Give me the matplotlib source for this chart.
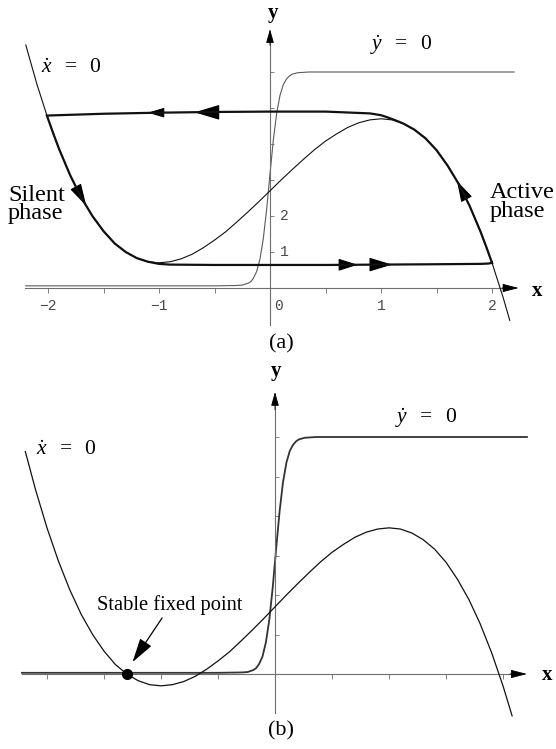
import matplotlib
matplotlib.use("Agg")
import matplotlib.pyplot as plt

plt.rcParams['font.family'] = ['Liberation Serif', 'DejaVu Serif']
plt.rcParams['mathtext.fontset'] = 'custom'
plt.rcParams['mathtext.rm'] = 'Liberation Serif'
plt.rcParams['mathtext.it'] = 'Liberation Serif:italic'
plt.rcParams['mathtext.bf'] = 'Liberation Serif:bold'

# ---------------- panel (a): oscillatory case ----------------
# cubic x-nullcline
cubic_a_x = [-2.20, -2.10, -2.00, -1.90, -1.80, -1.70, -1.60, -1.50, -1.40, -1.30,
             -1.20, -1.10, -1.00, -0.90, -0.80, -0.70, -0.60, -0.50, -0.40, -0.30,
             -0.20, -0.10, 0.00, 0.10, 0.20, 0.30, 0.40, 0.50, 0.60, 0.70,
             0.80, 0.90, 1.00, 1.10, 1.20, 1.30, 1.40, 1.50, 1.60, 1.70,
             1.80, 1.90, 2.00, 2.10, 2.16]
cubic_a_y = [6.75, 5.66, 4.70, 3.86, 3.13, 2.51, 2.00, 1.58, 1.24, 1.00,
             0.83, 0.73, 0.70, 0.73, 0.81, 0.94, 1.12, 1.33, 1.56, 1.83,
             2.11, 2.40, 2.70, 3.00, 3.29, 3.57, 3.84, 4.08, 4.28, 4.46,
             4.59, 4.67, 4.70, 4.67, 4.57, 4.40, 4.16, 3.83, 3.40, 2.89,
             2.27, 1.54, 0.70, -0.26, -0.90]

# sigmoid y-nullcline
sig_a_x = [-2.20, -0.50, -0.30, -0.25, -0.20, -0.175, -0.15, -0.12, -0.09, -0.06,
           -0.03, 0.00, 0.03, 0.06, 0.09, 0.12, 0.15, 0.175, 0.20, 0.25,
           0.30, 0.35, 0.40, 2.20]
sig_a_y = [0.06, 0.06, 0.07, 0.08, 0.13, 0.17, 0.27, 0.46, 0.81, 1.38,
           2.19, 3.17, 4.11, 4.85, 5.35, 5.65, 5.81, 5.89, 5.94, 5.98,
           5.99, 6.00, 6.00, 6.00]

# relaxation-oscillation orbit (active phase up the right branch,
# jump left, silent phase down the left branch, jump right)
orbit_x = [2.00, 1.95, 1.90, 1.80, 1.70, 1.60, 1.50, 1.40, 1.30, 1.20,
           1.12, 1.05, 1.00, 0.90, 0.50, 0.00, -0.50, -1.00, -1.50, -2.01,
           -1.95, -1.90, -1.80, -1.70, -1.60, -1.50, -1.40, -1.30, -1.20, -1.10,
           -1.00, -0.90, -0.50, 0.00, 0.50, 1.00, 1.50, 1.90, 1.97, 2.00]
orbit_y = [0.70, 1.13, 1.54, 2.27, 2.89, 3.40, 3.83, 4.16, 4.40, 4.57,
           4.67, 4.75, 4.80, 4.85, 4.90, 4.90, 4.89, 4.87, 4.84, 4.79,
           4.27, 3.86, 3.13, 2.51, 2.00, 1.58, 1.24, 1.00, 0.83, 0.73,
           0.67, 0.65, 0.64, 0.64, 0.64, 0.65, 0.66, 0.67, 0.68, 0.70]

# direction arrows on the orbit: (tail x, tail y, head x, head y)
orbit_arrows = [
    (-0.97, 4.87, -1.10, 4.87),
    (-0.48, 4.88, -0.68, 4.88),
    (0.65, 0.645, 0.79, 0.645),
    (0.92, 0.65, 1.10, 0.65),
    (-1.74, 2.76, -1.655, 2.28),
    (1.765, 2.50, 1.685, 2.97),
]

xticks_a = [-2.0, -1.5, -1.0, -0.5, 0.5, 1.0, 1.5, 2.0]
yticks_a = [1, 2, 3, 4, 5, 6]
xticklabels_a = ['\u22122', '\u22121', '0', '1', '2']
xticklabel_pos_a = [-2.0, -1.0, 0.0, 1.0, 2.0]
yticklabels_a = ['1', '2']
yticklabel_pos_a = [1.0, 2.0]

# ---------------- panel (b): excitable case ----------------
cubic_b_x = [-2.19, -2.10, -2.00, -1.90, -1.80, -1.70, -1.60, -1.50, -1.40, -1.30,
             -1.20, -1.10, -1.00, -0.90, -0.80, -0.70, -0.60, -0.50, -0.40, -0.30,
             -0.20, -0.10, 0.00, 0.10, 0.20, 0.30, 0.40, 0.50, 0.60, 0.70,
             0.80, 0.90, 1.00, 1.10, 1.20, 1.30, 1.40, 1.50, 1.60, 1.70,
             1.80, 1.90, 2.00, 2.08]
cubic_b_y = [5.63, 4.66, 3.70, 2.86, 2.13, 1.51, 1.00, 0.58, 0.24, 0.00,
             -0.17, -0.27, -0.30, -0.27, -0.19, -0.06, 0.12, 0.33, 0.56, 0.83,
             1.11, 1.40, 1.70, 2.00, 2.29, 2.57, 2.84, 3.08, 3.28, 3.46,
             3.59, 3.67, 3.70, 3.67, 3.57, 3.40, 3.16, 2.83, 2.40, 1.89,
             1.27, 0.54, -0.30, -1.06]

sig_b_x = [-2.22, -0.50, -0.29, -0.24, -0.19, -0.165, -0.14, -0.11, -0.08, -0.05,
           -0.02, 0.01, 0.04, 0.07, 0.10, 0.13, 0.16, 0.185, 0.21, 0.26,
           0.31, 0.36, 0.41, 2.21]
sig_b_y = [0.03, 0.03, 0.04, 0.05, 0.10, 0.15, 0.25, 0.44, 0.80, 1.37,
           2.19, 3.17, 4.11, 4.85, 5.35, 5.65, 5.81, 5.89, 5.94, 5.98,
           5.99, 6.00, 6.00, 6.00]

fixed_point = (-1.30, 0.00)

xticks_b = [-2.0, -1.5, -1.0, -0.5, 0.5, 1.0, 1.5, 2.0]
yticks_b = [1, 2, 3, 4, 5, 6]

AXIS_GRAY = '#6e6e6e'
TICK_GRAY = '#4a4a4a'
LABEL_SIZE = 17.5
NULL_SIZE = 15.5
XDOT = r'$\dot{x}\ \ =\ \ 0$'
YDOT = r'$\dot{y}\ \ =\ \ 0$'


def draw_frame(ax, xlim, ylim, x_span, y_span, xticks, yticks):
    ax.set_xlim(*xlim)
    ax.set_ylim(*ylim)
    ax.patch.set_visible(False)
    for side in ('top', 'right'):
        ax.spines[side].set_visible(False)
    ax.spines['left'].set_position(('data', 0))
    ax.spines['bottom'].set_position(('data', 0))
    ax.spines['bottom'].set_bounds(x_span[0], x_span[1] - 0.05)
    ax.spines['left'].set_bounds(y_span[0], y_span[1] - 0.2)
    for side in ('left', 'bottom'):
        ax.spines[side].set_color(AXIS_GRAY)
        ax.spines[side].set_linewidth(0.8)
    ax.set_xticks(xticks)
    ax.set_yticks(yticks)
    ax.tick_params(axis='x', direction='out', length=3.5, width=0.6,
                   color=AXIS_GRAY, labelbottom=False)
    ax.tick_params(axis='y', direction='in', length=3.0, width=0.6,
                   color=AXIS_GRAY, labelleft=False)
    # arrowheads on both axes
    ax.annotate('', xy=(x_span[1], 0), xytext=(x_span[1] - 0.15, 0),
                arrowprops=dict(arrowstyle='-|>,head_length=10,head_width=2.6',
                                mutation_scale=1, color='k', lw=0.6,
                                shrinkA=0, shrinkB=0))
    ax.annotate('', xy=(0, y_span[1]), xytext=(0, y_span[1] - 0.45),
                arrowprops=dict(arrowstyle='-|>,head_length=8.5,head_width=2.4',
                                mutation_scale=1, color='k', lw=0.6,
                                shrinkA=0, shrinkB=0))


def orbit_arrow(ax, tail, head, length, half_width):
    ax.annotate('', xy=head, xytext=tail,
                arrowprops=dict(arrowstyle='-|>,head_length=%g,head_width=%g'
                                % (length, half_width),
                                mutation_scale=1, color='k', lw=0.8,
                                shrinkA=0, shrinkB=0))


fig = plt.figure(figsize=(5.56, 7.49), dpi=100)

# ---------------- panel (a) ----------------
ax_a = fig.add_axes([0.0, 389 / 749, 1.0, 360 / 749])
draw_frame(ax_a, (-270 / 111, 286 / 111), (-2.0, 8.0),
           (-2.21, 2.24), (-1.03, 7.19), xticks_a, yticks_a)

ax_a.plot(sig_a_x, sig_a_y, color='#5a5a5a', lw=0.8, zorder=2)
ax_a.plot(cubic_a_x, cubic_a_y, color='#111111', lw=0.8, zorder=3)
ax_a.plot(orbit_x, orbit_y, color='#111111', lw=1.6, zorder=4,
          solid_joinstyle='miter')

arrow_sizes = [(10, 3.0), (16, 4.8), (12, 3.8), (14.5, 4.4), (14, 3.8), (13, 3.8)]
for (tx, ty, hx, hy), (ln, hw) in zip(orbit_arrows, arrow_sizes):
    orbit_arrow(ax_a, (tx, ty), (hx, hy), ln, hw)

mono = dict(family=['Liberation Mono', 'DejaVu Sans Mono'], fontsize=10.5,
            color=TICK_GRAY)
for lab, pos in zip(xticklabels_a, xticklabel_pos_a):
    xpos = pos + 0.08 if pos == 0 else pos
    ax_a.text(xpos, -0.5, lab, ha='center', va='center', **mono)
for lab, pos in zip(yticklabels_a, yticklabel_pos_a):
    ax_a.text(0.09, pos, lab, ha='left', va='center', **mono)

ax_a.text(-1.79, 6.1, XDOT, fontsize=NULL_SIZE, ha='center', va='center')
ax_a.text(1.18, 6.75, YDOT, fontsize=NULL_SIZE, ha='center', va='center')
ax_a.text(-2.36, 2.33, 'Silent\nphase', fontsize=LABEL_SIZE, ha='left',
          va='center', linespacing=0.82)
ax_a.text(1.98, 2.39, 'Active\nphase', fontsize=LABEL_SIZE, ha='left',
          va='center', linespacing=0.82)
ax_a.text(0.03, 7.64, 'y', fontsize=15, fontweight='bold', ha='center', va='center')
ax_a.text(2.405, -0.08, 'x', fontsize=15, fontweight='bold', ha='center', va='center')
ax_a.text(0.1, -1.56, '(a)', fontsize=16, ha='center', va='center')

# ---------------- panel (b) ----------------
ax_b = fig.add_axes([0.0, 0.0, 1.0, 389 / 749])
draw_frame(ax_b, (-275 / 114, 281 / 114), (-75 / 39.5, 314 / 39.5),
           (-2.22, 2.21), (-0.99, 7.14), xticks_b, yticks_b)

ax_b.plot(sig_b_x, sig_b_y, color='#333333', lw=1.3, zorder=2)
ax_b.plot(cubic_b_x, cubic_b_y, color='#111111', lw=0.9, zorder=3)
ax_b.plot([fixed_point[0]], [fixed_point[1]], 'o', color='k', ms=7, zorder=5)

ax_b.annotate('', xy=(-1.25, 0.30), xytext=(-0.99, 1.42),
              arrowprops=dict(arrowstyle='-|>,head_length=15,head_width=4.2',
                              mutation_scale=1, color='k', lw=0.9,
                              shrinkA=0, shrinkB=0))
ax_b.text(-0.92, 1.75, 'Stable fixed point', fontsize=14.8, ha='center', va='center')

ax_b.text(-1.83, 5.67, XDOT, fontsize=NULL_SIZE, ha='center', va='center')
ax_b.text(1.33, 6.48, YDOT, fontsize=NULL_SIZE, ha='center', va='center')
ax_b.text(0.01, 7.67, 'y', fontsize=15, fontweight='bold', ha='center', va='center')
ax_b.text(2.39, -0.03, 'x', fontsize=15, fontweight='bold', ha='center', va='center')
ax_b.text(0.05, -1.43, '(b)', fontsize=16, ha='center', va='center')

fig.savefig('out.png', dpi=100, facecolor='white')
